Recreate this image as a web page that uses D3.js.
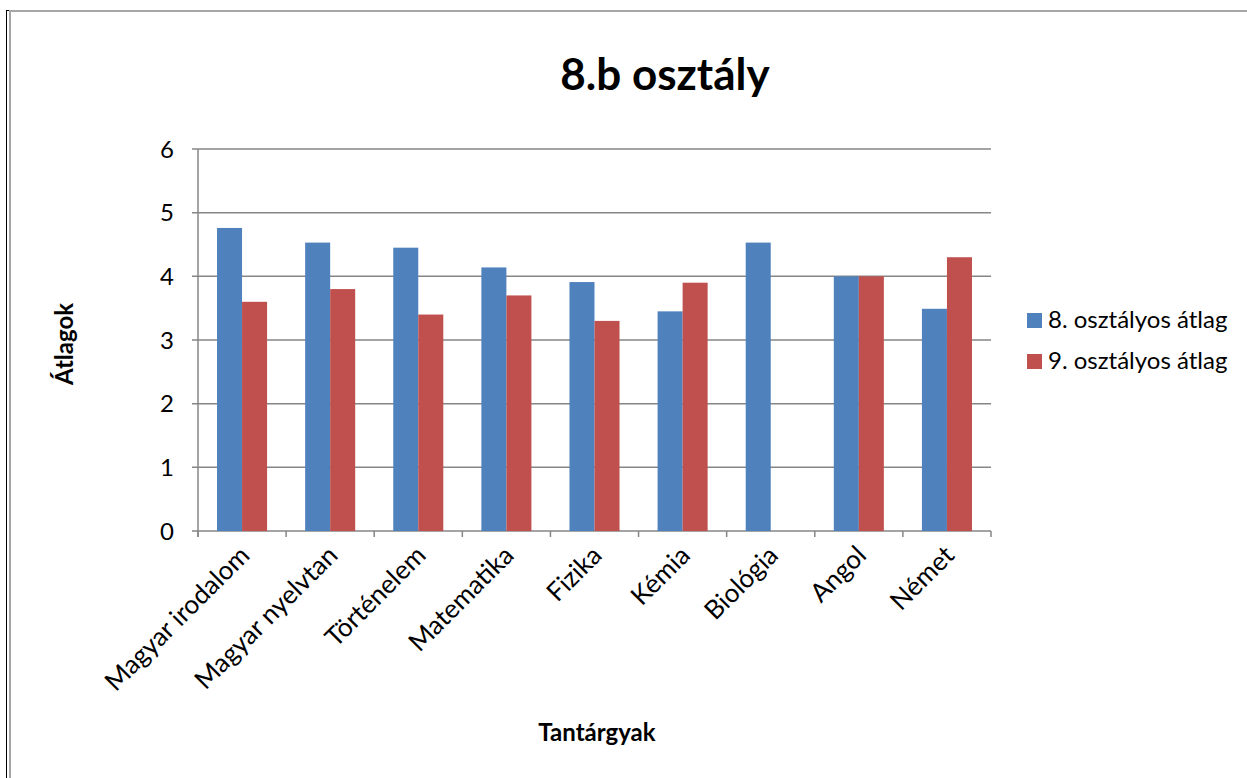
<!DOCTYPE html>
<html>
<head>
<meta charset="utf-8">
<script src="https://cdn.jsdelivr.net/npm/d3@7"></script>
<style>
  body { margin: 0; background: #fff; }
  svg text { font-family: Lato, "Liberation Sans", sans-serif; fill: #000; }
</style>
</head>
<body>
<div id="chart"></div>
<script>
// chart data
var categories = ["Magyar irodalom", "Magyar nyelvtan", "Történelem", "Matematika", "Fizika", "Kémia", "Biológia", "Angol", "Német"];
var atlag8 = [4.76, 4.53, 4.45, 4.14, 3.91, 3.45, 4.53, 4.0, 3.49];
var atlag9 = [3.6, 3.8, 3.4, 3.7, 3.3, 3.9, null, 4.0, 4.3];
var seriesNames = ["8. osztályos átlag", "9. osztályos átlag"];
var yTicks = [0, 1, 2, 3, 4, 5, 6];

var width = 1247, height = 778;
var plotLeft = 198, plotRight = 991, plotTop = 149, plotBottom = 531;
var colors = ["#4f81bd", "#c0504d"];
var gridColor = "#868686";

var svg = d3.select("#chart").append("svg").attr("width", width).attr("height", height);

// outer frame
svg.append("line").attr("x1", 6.5).attr("x2", 6.5).attr("y1", 10.5).attr("y2", height).attr("stroke", "#000").attr("stroke-width", 1);
svg.append("line").attr("x1", 6).attr("x2", 10).attr("y1", 10.5).attr("y2", 10.5).attr("stroke", "#000").attr("stroke-width", 1);
svg.append("line").attr("x1", 10).attr("x2", 10).attr("y1", 10).attr("y2", height).attr("stroke", "#a6a6a6").attr("stroke-width", 2);
svg.append("line").attr("x1", 9).attr("x2", width).attr("y1", 11).attr("y2", 11).attr("stroke", "#a6a6a6").attr("stroke-width", 2);

var x = d3.scaleBand().domain(categories).range([plotLeft, plotRight]).paddingInner(0.432).paddingOuter(0.216);
var xs = d3.scaleBand().domain([0, 1]).range([0, x.bandwidth()]);
var y = d3.scaleLinear().domain([0, 6]).range([plotBottom, plotTop]);

// gridlines + y ticks
svg.selectAll(".grid").data(yTicks).enter()
    .append("line")
    .attr("x1", plotLeft - 6).attr("x2", plotRight)
    .attr("y1", function(d) { return y(d); })
    .attr("y2", function(d) { return y(d); })
    .attr("stroke", gridColor).attr("stroke-width", 1.5);

svg.selectAll(".ytick").data(yTicks).enter()
    .append("text")
    .attr("x", 174)
    .attr("y", function(d) { return y(d); })
    .attr("dy", "0.36em")
    .attr("text-anchor", "end")
    .attr("font-size", 24)
    .text(function(d) { return d; });

// y axis line
svg.append("line").attr("x1", plotLeft).attr("x2", plotLeft).attr("y1", plotTop).attr("y2", plotBottom + 6)
    .attr("stroke", gridColor).attr("stroke-width", 1.5);

// x ticks at band boundaries
var bounds = categories.map(function(c) { return x(c) - x.step() * x.paddingOuter(); });
bounds.push(plotRight);
svg.selectAll(".xtick").data(bounds).enter()
    .append("line")
    .attr("x1", function(d) { return d; }).attr("x2", function(d) { return d; })
    .attr("y1", plotBottom).attr("y2", plotBottom + 6)
    .attr("stroke", gridColor).attr("stroke-width", 1.5);

// bars
[atlag8, atlag9].forEach(function(vals, si) {
    svg.selectAll(".bar" + si).data(categories).enter()
        .filter(function(c, i) { return vals[i] != null; })
        .append("rect")
        .attr("x", function(c) { return x(c) + xs(si); })
        .attr("y", function(c) { return y(vals[categories.indexOf(c)]); })
        .attr("width", xs.bandwidth())
        .attr("height", function(c) { return plotBottom - y(vals[categories.indexOf(c)]); })
        .attr("fill", colors[si]);
});

// category labels
svg.selectAll(".xlabel").data(categories).enter()
    .append("text")
    .attr("transform", function(c) { return "translate(" + (x(c) + x.bandwidth() / 2 + 9) + "," + 557 + ") rotate(-45)"; })
    .attr("text-anchor", "end")
    .attr("font-size", 26)
    .text(function(c) { return c; });

// titles
svg.append("text").attr("x", 665).attr("y", 90).attr("text-anchor", "middle")
    .attr("font-size", 44).attr("font-weight", "bold").text("8.b osztály");
svg.append("text").attr("x", 597).attr("y", 741).attr("text-anchor", "middle")
    .attr("font-size", 24).attr("font-weight", "bold").text("Tantárgyak");
svg.append("text").attr("transform", "translate(73,344) rotate(-90)").attr("text-anchor", "middle")
    .attr("font-size", 24).attr("font-weight", "bold").text("Átlagok");

// legend
var legend = svg.selectAll(".legend").data(seriesNames).enter()
    .append("g")
    .attr("transform", function(d, i) { return "translate(1027," + (313 + i * 41) + ")"; });
legend.append("rect").attr("width", 15).attr("height", 15).attr("fill", function(d, i) { return colors[i]; });
legend.append("text").attr("x", 21).attr("y", 15).attr("font-size", 24).text(function(d) { return d; });
</script>
</body>
</html>
